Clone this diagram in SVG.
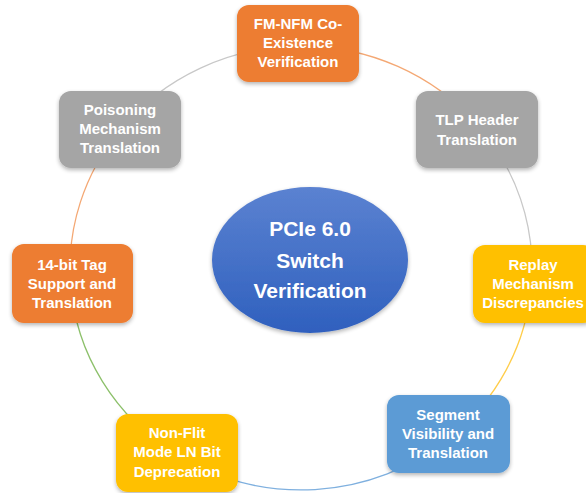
<svg xmlns="http://www.w3.org/2000/svg" width="586" height="493" viewBox="0 0 586 493">
<defs>
<linearGradient id="blueGrad" x1="0" y1="0" x2="0" y2="1">
<stop offset="0" stop-color="#5B82D1"/>
<stop offset="1" stop-color="#2F60BE"/>
</linearGradient>
<filter id="sh" x="-20%" y="-20%" width="140%" height="150%">
<feGaussianBlur in="SourceAlpha" stdDeviation="2"/>
<feOffset dx="0" dy="2" result="b"/>
<feComponentTransfer><feFuncA type="linear" slope="0.3"/></feComponentTransfer>
<feMerge><feMergeNode/><feMergeNode in="SourceGraphic"/></feMerge>
</filter>
</defs>
<style>
.arc{fill:none;stroke-width:1.3}
.box{stroke:none}
.t{font-family:"Liberation Sans",Arial,sans-serif;font-weight:bold;font-size:15px;fill:#FFFFFF;text-anchor:middle}
.c{font-family:"Liberation Sans",Arial,sans-serif;font-weight:bold;font-size:21px;fill:#FFFFFF;text-anchor:middle}
</style>
<rect width="586" height="493" fill="#FFFFFF"/>
<g id="connectors">
<path class="arc" stroke="#C8C8C8" d="M120 130.1 A231 222 0 0 1 301 46"/>
<path class="arc" stroke="#F4A874" d="M301 46 A231 222 0 0 1 476.9 124.1"/>
<path class="arc" stroke="#C8C8C8" d="M476.9 124.1 A231 222 0 0 1 531.4 283.9"/>
<path class="arc" stroke="#FFCD4A" d="M531.4 283.9 A231 222 0 0 1 447.9 439.3"/>
<path class="arc" stroke="#7FB0DF" d="M447.9 439.3 A231 222 0 0 1 176.9 455.2"/>
<path class="arc" stroke="#8CC06A" d="M176.9 455.2 A231 222 0 0 1 70.5 283.1"/>
<path class="arc" stroke="#F4A874" d="M70.5 283.1 A231 222 0 0 1 120 130.1"/>
</g>
<g id="center">
<ellipse cx="310" cy="260" rx="98" ry="73" fill="url(#blueGrad)" filter="url(#sh)"/>
<text class="c" x="310" y="236">PCIe 6.0</text>
<text class="c" x="310" y="268">Switch</text>
<text class="c" x="310" y="298">Verification</text>
</g>
<g id="fm-nfm">
<rect class="box" x="237" y="5" width="122" height="77" rx="12" fill="#ED7D31" filter="url(#sh)"/>
<text class="t" x="298" y="29">FM-NFM Co-</text>
<text class="t" x="298" y="48">Existence</text>
<text class="t" x="298" y="67">Verification</text>
</g>
<g id="tlp">
<rect class="box" x="416" y="91" width="122" height="77" rx="12" fill="#A5A5A5" filter="url(#sh)"/>
<text class="t" x="477" y="125">TLP Header</text>
<text class="t" x="477" y="145">Translation</text>
</g>
<g id="replay">
<rect class="box" x="473" y="245" width="122" height="78" rx="12" fill="#FFC000" filter="url(#sh)"/>
<text class="t" x="533" y="270">Replay</text>
<text class="t" x="533" y="289">Mechanism</text>
<text class="t" x="533" y="308">Discrepancies</text>
</g>
<g id="segment">
<rect class="box" x="387" y="395" width="123" height="78" rx="12" fill="#5B9BD5" filter="url(#sh)"/>
<text class="t" x="448" y="420">Segment</text>
<text class="t" x="448" y="439">Visibility and</text>
<text class="t" x="448" y="458">Translation</text>
</g>
<g id="non-flit">
<rect class="box" x="116" y="414" width="122" height="78" rx="12" fill="#FFC000" filter="url(#sh)"/>
<text class="t" x="177" y="438">Non-Flit</text>
<text class="t" x="177" y="457">Mode LN Bit</text>
<text class="t" x="177" y="477">Deprecation</text>
</g>
<g id="tag14">
<rect class="box" x="12" y="244" width="121" height="79" rx="12" fill="#ED7D31" filter="url(#sh)"/>
<text class="t" x="72" y="270">14-bit Tag</text>
<text class="t" x="72" y="289">Support and</text>
<text class="t" x="72" y="308">Translation</text>
</g>
<g id="poisoning">
<rect class="box" x="59" y="91" width="122" height="77" rx="12" fill="#A5A5A5" filter="url(#sh)"/>
<text class="t" x="120" y="115">Poisoning</text>
<text class="t" x="120" y="134">Mechanism</text>
<text class="t" x="120" y="153">Translation</text>
</g>
</svg>
